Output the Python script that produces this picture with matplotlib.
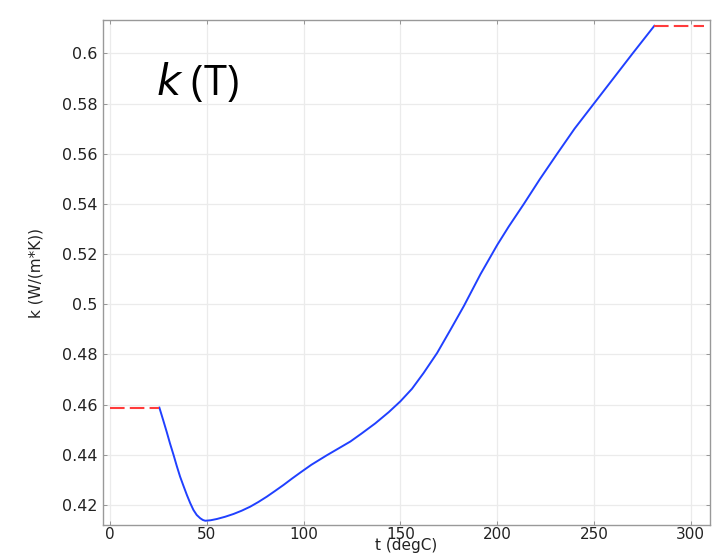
import matplotlib
matplotlib.use('Agg')
import matplotlib.pyplot as plt

# curve: t (degC), k (W/(m*K))
t_curve = [25.5, 27.4, 29.3, 31.0, 32.8, 34.5, 36.2, 38.0, 39.7, 41.4, 43.1, 44.8,
           46.6, 48.0, 49.2, 52.0, 55.2, 59.5, 63.8, 68.0, 72.4, 76.7, 81.0, 85.3,
           89.7, 94.0, 98.3, 104, 112, 118, 124.2, 130, 137, 144, 150, 156, 162,
           169, 176, 182.8, 187, 191.4, 196, 200, 206, 213.8, 222, 231, 240, 250,
           260, 270, 281.2]
k_curve = [0.4588, 0.4540, 0.4491, 0.4445, 0.4400, 0.4355, 0.4313, 0.4275, 0.4240,
           0.4208, 0.4180, 0.4160, 0.4147, 0.4140, 0.4137, 0.4139, 0.4144, 0.4153,
           0.4164, 0.4177, 0.4193, 0.4212, 0.4233, 0.4256, 0.4280, 0.4305, 0.4329,
           0.4360, 0.4398, 0.4425, 0.4453, 0.4485, 0.4525, 0.4570, 0.4613, 0.4663,
           0.4726, 0.4806, 0.4900, 0.4993, 0.5055, 0.5120, 0.5182, 0.5236, 0.5310,
           0.5400, 0.5498, 0.5600, 0.5700, 0.5800, 0.5900, 0.6000, 0.6110]

# constant extrapolation outside the data range
t_low = [0, 25.5]
k_low = [0.4588, 0.4588]
t_high = [281.2, 307]
k_high = [0.611, 0.611]

x_ticks = [0, 50, 100, 150, 200, 250, 300]
y_ticks = [0.42, 0.44, 0.46, 0.48, 0.5, 0.52, 0.54, 0.56, 0.58, 0.6]
y_labels = ['0.42', '0.44', '0.46', '0.48', '0.5', '0.52', '0.54', '0.56', '0.58', '0.6']

fig = plt.figure(figsize=(7.18, 5.53), dpi=100)
ax = fig.add_axes([0.1435, 0.0506, 0.8455, 0.9132])

ax.plot(t_curve, k_curve, color='#2040ff', lw=1.4, zorder=3)
ax.plot(t_low, k_low, color='#ff3b3b', lw=1.5, dashes=(7, 2.5), zorder=3)
ax.plot(t_high, k_high, color='#ff3b3b', lw=1.5, dashes=(7, 2.5), zorder=3)

ax.set_xlim(-3.6, 310)
ax.set_ylim(0.412, 0.6133)
ax.set_xticks(x_ticks)
ax.set_yticks(y_ticks)
ax.set_yticklabels(y_labels)
ax.grid(True, color='#ebebeb', lw=0.9)
ax.set_axisbelow(True)

ax.tick_params(direction='in', length=3, width=0.6, color='#888888',
               top=True, right=True, labelsize=11.5, labelcolor='#222222')
ax.tick_params(axis='x', pad=1.5, labelsize=11)
ax.tick_params(axis='y', pad=4)
for s in ax.spines.values():
    s.set_color('#999999')
    s.set_linewidth(1.0)

ax.set_xlabel('t (degC)', fontsize=11, labelpad=-3, color='#222222')
ax.set_ylabel('k (W/(m*K))', fontsize=11, labelpad=13, color='#222222')

ax.text(0.088, 0.875, r'$\mathit{k}$ (T)', transform=ax.transAxes,
        fontsize=30, family='Open Sans', color='black', va='center')

fig.savefig('out.png', dpi=100)
